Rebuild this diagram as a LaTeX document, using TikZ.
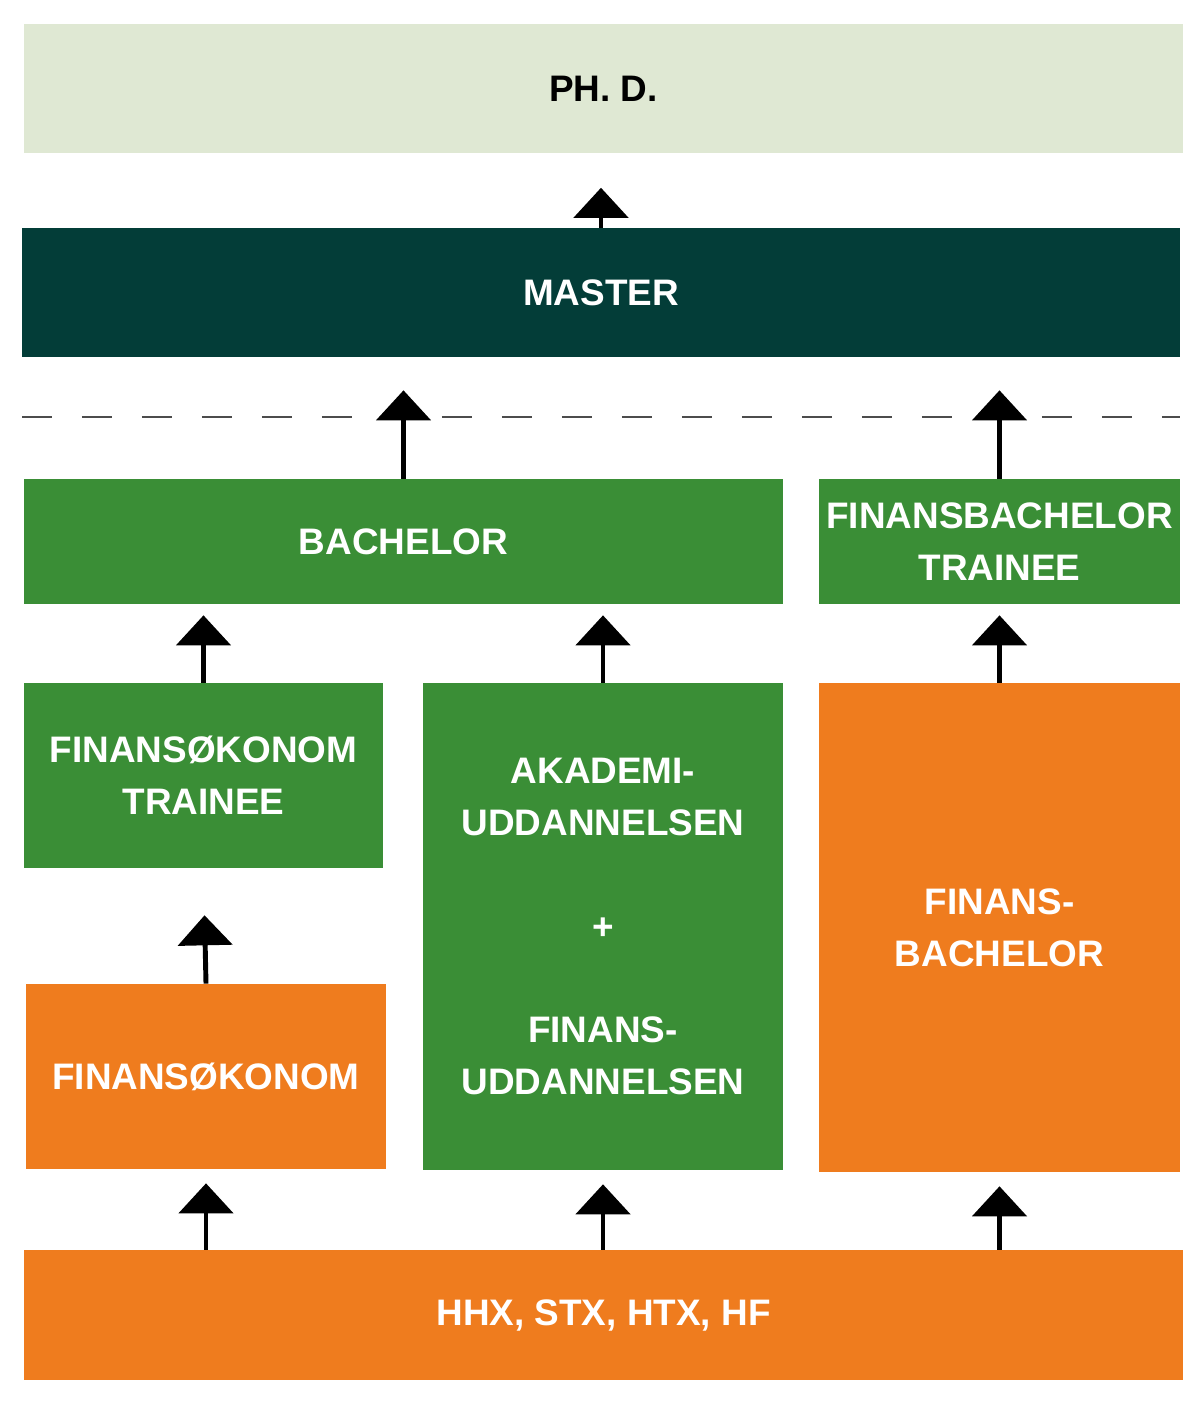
\documentclass[tikz,border=0pt]{standalone}
\usepackage{fontspec}
\setmainfont{Liberation Sans}
\usetikzlibrary{positioning,arrows.meta}
\definecolor{phdgreen}{HTML}{DFE8D3}
\definecolor{darkteal}{HTML}{033D38}
\definecolor{midgreen}{HTML}{3A8E36}
\definecolor{brandorange}{HTML}{EF7C1E}
\begin{document}
\begin{tikzpicture}[
  x=0.02cm, y=-0.02cm,
  font=\bfseries\fontsize{21}{29.5}\selectfont,
  box/.style={align=center, inner sep=0pt, text=white},
  phd/.style={box, fill=phdgreen, text=black},
  master/.style={box, fill=darkteal},
  grn/.style={box, fill=midgreen},
  orng/.style={box, fill=brandorange},
  arr/.style={-{Triangle[width=1.08cm,length=0.6cm]}, line width=2.8pt}
]
\useasboundingbox (0,0) rectangle (1200,1402);

\node[phd, minimum width=23.18cm, minimum height=2.58cm] (phd) at (603.5,88.5) {PH. D.};
\node[master, minimum width=23.16cm, minimum height=2.58cm] (master) at (601,292.5) {MASTER};
\draw[dash pattern=on 0.6cm off 0.6cm, line width=1pt, black!70] (22,417) -- (1180,417);

\node[grn, minimum width=15.18cm, minimum height=2.5cm] (bach) at (403.5,541.5) {BACHELOR};
\node[grn, minimum width=7.22cm, minimum height=2.5cm] (fbtrainee) at (999.5,541.5) {FINANSBACHELOR\\TRAINEE};

\node[grn, minimum width=7.18cm, minimum height=3.7cm] (fotrainee) at (203.5,775.5) {FINANSØKONOM\\TRAINEE};
\node[grn, minimum width=7.2cm, minimum height=9.74cm] (akademi) at (603,926.5)
  {AKADEMI-\\UDDANNELSEN\\[29.5pt]+\\[29.5pt]FINANS-\\UDDANNELSEN};
\node[orng, minimum width=7.22cm, minimum height=9.78cm] (fbach) at (999.5,927.5) {FINANS-\\BACHELOR};
\node[orng, minimum width=7.2cm, minimum height=3.7cm] (fokonom) at (206,1076.5) {FINANSØKONOM};

\node[orng, minimum width=23.18cm, minimum height=2.6cm] (hhx) at (603.5,1315) {HHX, STX, HTX, HF};

\draw[arr, shorten >=7\pgflinewidth] (master.north) -- (master.north |- phd.south);
\draw[arr, shorten >=0.66cm] (bach.north) -- (bach.north |- master.south);
\draw[arr, shorten >=0.66cm] (fbtrainee.north) -- (fbtrainee.north |- master.south);
\draw[arr, shorten >=0.22cm] (fotrainee.north) -- (fotrainee.north |- bach.south);
\draw[arr, shorten >=0.22cm] (akademi.north) -- (akademi.north |- bach.south);
\draw[arr, shorten >=0.22cm] (fbach.north) -- (fbtrainee.south);
\draw[arr, shorten >=0.94cm] (fokonom.north) -- (fotrainee.south);
\draw[arr, shorten >=0.28cm] (fokonom.south |- hhx.north) -- (fokonom.south);
\draw[arr, shorten >=0.28cm] (akademi.south |- hhx.north) -- (akademi.south);
\draw[arr, shorten >=0.28cm] (fbach.south |- hhx.north) -- (fbach.south);
\end{tikzpicture}
\end{document}
